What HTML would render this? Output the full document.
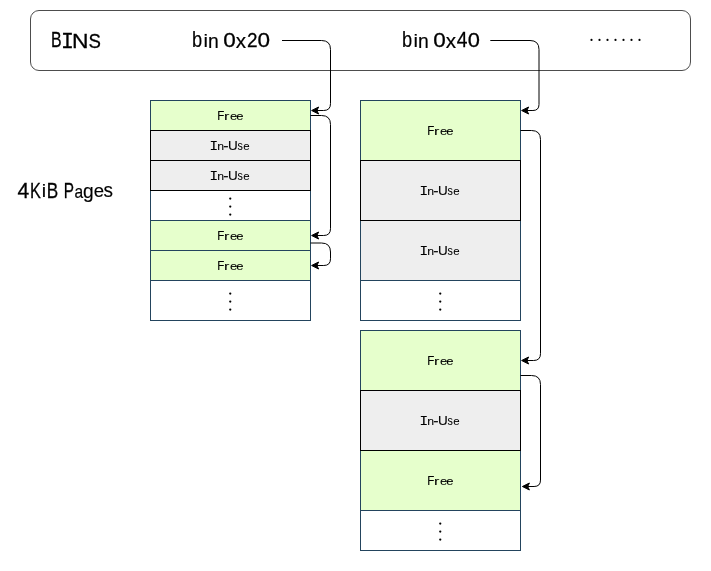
<!DOCTYPE html>
<html><head><meta charset="utf-8"><style>
html,body{margin:0;padding:0;background:#fff;width:711px;height:571px;overflow:hidden}
svg{display:block;will-change:transform}
text{font-family:"Liberation Sans", sans-serif;fill:#000}
</style></head><body>
<svg width="711" height="571" viewBox="0 0 711 571">
<path d="M39.0 10.5 L682.0 10.5 A8.5 8.5 0 0 1 690.5 19.0 L690.5 62.0 A8.5 8.5 0 0 1 682.0 70.5 L39.0 70.5 A8.5 8.5 0 0 1 30.5 62.0 L30.5 19.0 A8.5 8.5 0 0 1 39.0 10.5 Z" fill="#fff" stroke="#4d4d4d"/>
<rect x="150.5" y="100.5" width="160" height="30" fill="#e6ffcc" stroke="#23445d"/>
<rect x="150.5" y="220.5" width="160" height="30" fill="#e6ffcc" stroke="#23445d"/>
<rect x="150.5" y="250.5" width="160" height="30" fill="#e6ffcc" stroke="#23445d"/>
<rect x="150.5" y="190.5" width="160" height="30" fill="#ffffff" stroke="#23445d"/>
<rect x="150.5" y="280.5" width="160" height="40" fill="#ffffff" stroke="#23445d"/>
<rect x="150.5" y="130.5" width="160" height="30" fill="#eeeeee" stroke="#000"/>
<rect x="150.5" y="160.5" width="160" height="30" fill="#eeeeee" stroke="#000"/>
<text transform="translate(217.22 119.75) scale(0.9694 1.0507)" font-size="12" style='font-family:"Liberation Sans", sans-serif' stroke="#000" stroke-width="0.1">F</text><text transform="translate(223.88 119.77) scale(1.3467 0.9630)" font-size="12" style='font-family:"Liberation Sans", sans-serif' stroke="#000" stroke-width="0.06">r</text><text transform="translate(230.05 119.66) scale(1.0824 0.9455)" font-size="12" style='font-family:"Liberation Sans", sans-serif' stroke="#000" stroke-width="0.06">e</text><text transform="translate(236.35 119.66) scale(1.0824 0.9455)" font-size="12" style='font-family:"Liberation Sans", sans-serif' stroke="#000" stroke-width="0.06">e</text>
<text transform="translate(209.50 149.85) scale(1.2083 1.1237)" font-size="12" style='font-family:"Liberation Mono", monospace' stroke="#000" stroke-width="0.1">I</text><text transform="translate(217.13 149.87) scale(1.0275 0.9475)" font-size="12" style='font-family:"Liberation Sans", sans-serif' stroke="#000" stroke-width="0.06">n</text><text transform="translate(223.13 149.76) scale(1.3265 1.0417)" font-size="12" style='font-family:"Liberation Sans", sans-serif' stroke="#000" stroke-width="0.1">-</text><text transform="translate(228.04 149.62) scale(1.1257 1.0476)" font-size="12" style='font-family:"Liberation Sans", sans-serif' stroke="#000" stroke-width="0.1">U</text><text transform="translate(237.51 149.65) scale(0.8889 1.0153)" font-size="12" style='font-family:"Liberation Sans", sans-serif' stroke="#000" stroke-width="0.06">s</text><text transform="translate(243.21 149.66) scale(0.9570 0.9303)" font-size="12" style='font-family:"Liberation Sans", sans-serif' stroke="#000" stroke-width="0.06">e</text>
<text transform="translate(209.50 179.85) scale(1.2083 1.1237)" font-size="12" style='font-family:"Liberation Mono", monospace' stroke="#000" stroke-width="0.1">I</text><text transform="translate(217.13 179.87) scale(1.0275 0.9475)" font-size="12" style='font-family:"Liberation Sans", sans-serif' stroke="#000" stroke-width="0.06">n</text><text transform="translate(223.13 179.76) scale(1.3265 1.0417)" font-size="12" style='font-family:"Liberation Sans", sans-serif' stroke="#000" stroke-width="0.1">-</text><text transform="translate(228.04 179.62) scale(1.1257 1.0476)" font-size="12" style='font-family:"Liberation Sans", sans-serif' stroke="#000" stroke-width="0.1">U</text><text transform="translate(237.51 179.65) scale(0.8889 1.0153)" font-size="12" style='font-family:"Liberation Sans", sans-serif' stroke="#000" stroke-width="0.06">s</text><text transform="translate(243.21 179.66) scale(0.9570 0.9303)" font-size="12" style='font-family:"Liberation Sans", sans-serif' stroke="#000" stroke-width="0.06">e</text>
<circle cx="230.25" cy="198.55" r="1.15" fill="#000"/><circle cx="230.25" cy="206.55" r="1.15" fill="#000"/><circle cx="230.25" cy="214.55" r="1.15" fill="#000"/>
<text transform="translate(217.22 239.75) scale(0.9694 1.0507)" font-size="12" style='font-family:"Liberation Sans", sans-serif' stroke="#000" stroke-width="0.1">F</text><text transform="translate(223.88 239.77) scale(1.3467 0.9630)" font-size="12" style='font-family:"Liberation Sans", sans-serif' stroke="#000" stroke-width="0.06">r</text><text transform="translate(230.05 239.66) scale(1.0824 0.9455)" font-size="12" style='font-family:"Liberation Sans", sans-serif' stroke="#000" stroke-width="0.06">e</text><text transform="translate(236.35 239.66) scale(1.0824 0.9455)" font-size="12" style='font-family:"Liberation Sans", sans-serif' stroke="#000" stroke-width="0.06">e</text>
<text transform="translate(217.22 269.75) scale(0.9694 1.0507)" font-size="12" style='font-family:"Liberation Sans", sans-serif' stroke="#000" stroke-width="0.1">F</text><text transform="translate(223.88 269.77) scale(1.3467 0.9630)" font-size="12" style='font-family:"Liberation Sans", sans-serif' stroke="#000" stroke-width="0.06">r</text><text transform="translate(230.05 269.66) scale(1.0824 0.9455)" font-size="12" style='font-family:"Liberation Sans", sans-serif' stroke="#000" stroke-width="0.06">e</text><text transform="translate(236.35 269.66) scale(1.0824 0.9455)" font-size="12" style='font-family:"Liberation Sans", sans-serif' stroke="#000" stroke-width="0.06">e</text>
<circle cx="230.25" cy="293.55" r="1.15" fill="#000"/><circle cx="230.25" cy="301.55" r="1.15" fill="#000"/><circle cx="230.25" cy="309.55" r="1.15" fill="#000"/>
<rect x="360.5" y="100.5" width="160" height="60" fill="#e6ffcc" stroke="#23445d"/>
<rect x="360.5" y="220.5" width="160" height="60" fill="#eeeeee" stroke="#23445d"/>
<rect x="360.5" y="280.5" width="160" height="40" fill="#ffffff" stroke="#23445d"/>
<rect x="360.5" y="160.5" width="160" height="60" fill="#eeeeee" stroke="#000"/>
<text transform="translate(427.22 134.75) scale(0.9694 1.0507)" font-size="12" style='font-family:"Liberation Sans", sans-serif' stroke="#000" stroke-width="0.1">F</text><text transform="translate(433.88 134.77) scale(1.3467 0.9630)" font-size="12" style='font-family:"Liberation Sans", sans-serif' stroke="#000" stroke-width="0.06">r</text><text transform="translate(440.05 134.66) scale(1.0824 0.9455)" font-size="12" style='font-family:"Liberation Sans", sans-serif' stroke="#000" stroke-width="0.06">e</text><text transform="translate(446.35 134.66) scale(1.0824 0.9455)" font-size="12" style='font-family:"Liberation Sans", sans-serif' stroke="#000" stroke-width="0.06">e</text>
<text transform="translate(419.50 194.85) scale(1.2083 1.1237)" font-size="12" style='font-family:"Liberation Mono", monospace' stroke="#000" stroke-width="0.1">I</text><text transform="translate(427.13 194.87) scale(1.0275 0.9475)" font-size="12" style='font-family:"Liberation Sans", sans-serif' stroke="#000" stroke-width="0.06">n</text><text transform="translate(433.13 194.76) scale(1.3265 1.0417)" font-size="12" style='font-family:"Liberation Sans", sans-serif' stroke="#000" stroke-width="0.1">-</text><text transform="translate(438.04 194.62) scale(1.1257 1.0476)" font-size="12" style='font-family:"Liberation Sans", sans-serif' stroke="#000" stroke-width="0.1">U</text><text transform="translate(447.51 194.65) scale(0.8889 1.0153)" font-size="12" style='font-family:"Liberation Sans", sans-serif' stroke="#000" stroke-width="0.06">s</text><text transform="translate(453.21 194.66) scale(0.9570 0.9303)" font-size="12" style='font-family:"Liberation Sans", sans-serif' stroke="#000" stroke-width="0.06">e</text>
<text transform="translate(419.50 254.85) scale(1.2083 1.1237)" font-size="12" style='font-family:"Liberation Mono", monospace' stroke="#000" stroke-width="0.1">I</text><text transform="translate(427.13 254.87) scale(1.0275 0.9475)" font-size="12" style='font-family:"Liberation Sans", sans-serif' stroke="#000" stroke-width="0.06">n</text><text transform="translate(433.13 254.76) scale(1.3265 1.0417)" font-size="12" style='font-family:"Liberation Sans", sans-serif' stroke="#000" stroke-width="0.1">-</text><text transform="translate(438.04 254.62) scale(1.1257 1.0476)" font-size="12" style='font-family:"Liberation Sans", sans-serif' stroke="#000" stroke-width="0.1">U</text><text transform="translate(447.51 254.65) scale(0.8889 1.0153)" font-size="12" style='font-family:"Liberation Sans", sans-serif' stroke="#000" stroke-width="0.06">s</text><text transform="translate(453.21 254.66) scale(0.9570 0.9303)" font-size="12" style='font-family:"Liberation Sans", sans-serif' stroke="#000" stroke-width="0.06">e</text>
<circle cx="440.25" cy="293.55" r="1.15" fill="#000"/><circle cx="440.25" cy="301.55" r="1.15" fill="#000"/><circle cx="440.25" cy="309.55" r="1.15" fill="#000"/>
<rect x="360.5" y="330.5" width="160" height="60" fill="#e6ffcc" stroke="#23445d"/>
<rect x="360.5" y="450.5" width="160" height="60" fill="#e6ffcc" stroke="#23445d"/>
<rect x="360.5" y="510.5" width="160" height="40" fill="#ffffff" stroke="#23445d"/>
<rect x="360.5" y="390.5" width="160" height="60" fill="#eeeeee" stroke="#000"/>
<text transform="translate(427.22 364.75) scale(0.9694 1.0507)" font-size="12" style='font-family:"Liberation Sans", sans-serif' stroke="#000" stroke-width="0.1">F</text><text transform="translate(433.88 364.77) scale(1.3467 0.9630)" font-size="12" style='font-family:"Liberation Sans", sans-serif' stroke="#000" stroke-width="0.06">r</text><text transform="translate(440.05 364.66) scale(1.0824 0.9455)" font-size="12" style='font-family:"Liberation Sans", sans-serif' stroke="#000" stroke-width="0.06">e</text><text transform="translate(446.35 364.66) scale(1.0824 0.9455)" font-size="12" style='font-family:"Liberation Sans", sans-serif' stroke="#000" stroke-width="0.06">e</text>
<text transform="translate(419.50 424.85) scale(1.2083 1.1237)" font-size="12" style='font-family:"Liberation Mono", monospace' stroke="#000" stroke-width="0.1">I</text><text transform="translate(427.13 424.87) scale(1.0275 0.9475)" font-size="12" style='font-family:"Liberation Sans", sans-serif' stroke="#000" stroke-width="0.06">n</text><text transform="translate(433.13 424.76) scale(1.3265 1.0417)" font-size="12" style='font-family:"Liberation Sans", sans-serif' stroke="#000" stroke-width="0.1">-</text><text transform="translate(438.04 424.62) scale(1.1257 1.0476)" font-size="12" style='font-family:"Liberation Sans", sans-serif' stroke="#000" stroke-width="0.1">U</text><text transform="translate(447.51 424.65) scale(0.8889 1.0153)" font-size="12" style='font-family:"Liberation Sans", sans-serif' stroke="#000" stroke-width="0.06">s</text><text transform="translate(453.21 424.66) scale(0.9570 0.9303)" font-size="12" style='font-family:"Liberation Sans", sans-serif' stroke="#000" stroke-width="0.06">e</text>
<text transform="translate(427.22 484.75) scale(0.9694 1.0507)" font-size="12" style='font-family:"Liberation Sans", sans-serif' stroke="#000" stroke-width="0.1">F</text><text transform="translate(433.88 484.77) scale(1.3467 0.9630)" font-size="12" style='font-family:"Liberation Sans", sans-serif' stroke="#000" stroke-width="0.06">r</text><text transform="translate(440.05 484.66) scale(1.0824 0.9455)" font-size="12" style='font-family:"Liberation Sans", sans-serif' stroke="#000" stroke-width="0.06">e</text><text transform="translate(446.35 484.66) scale(1.0824 0.9455)" font-size="12" style='font-family:"Liberation Sans", sans-serif' stroke="#000" stroke-width="0.06">e</text>
<circle cx="440.25" cy="523.55" r="1.15" fill="#000"/><circle cx="440.25" cy="531.55" r="1.15" fill="#000"/><circle cx="440.25" cy="539.55" r="1.15" fill="#000"/>
<path d="M282.000 40.500 L321.500 40.500 Q330.500 40.500 330.500 49.500 L330.500 103.684 Q330.500 110.500 323.684 110.500 L316.868 110.500" fill="none" stroke="#000" stroke-width="1"/><path d="M311.618 110.5 L318.618 107.0 L316.868 110.5 L318.618 114.0 Z" fill="#000" stroke="#000" stroke-width="1"/>
<path d="M310.500 115.500 L321.500 115.500 Q330.500 115.500 330.500 124.500 L330.500 228.684 Q330.500 235.500 323.684 235.500 L316.868 235.500" fill="none" stroke="#000" stroke-width="1"/><path d="M311.618 235.5 L318.618 232.0 L316.868 235.5 L318.618 239.0 Z" fill="#000" stroke="#000" stroke-width="1"/>
<path d="M310.500 243.000 L321.500 243.000 Q330.500 243.000 330.500 252.000 L330.500 258.750 Q330.500 265.500 323.750 265.500 L316.868 265.500" fill="none" stroke="#000" stroke-width="1"/><path d="M311.618 265.5 L318.618 262.0 L316.868 265.5 L318.618 269.0 Z" fill="#000" stroke="#000" stroke-width="1"/>
<path d="M490.300 40.500 L530.000 40.500 Q539.000 40.500 539.000 49.500 L539.000 104.434 Q539.000 110.500 532.934 110.500 L526.868 110.500" fill="none" stroke="#000" stroke-width="1"/><path d="M521.618 110.5 L528.618 107.0 L526.868 110.5 L528.618 114.0 Z" fill="#000" stroke="#000" stroke-width="1"/>
<path d="M520.500 130.500 L531.500 130.500 Q540.500 130.500 540.500 139.500 L540.500 353.684 Q540.500 360.500 533.684 360.500 L526.868 360.500" fill="none" stroke="#000" stroke-width="1"/><path d="M521.618 360.5 L528.618 357.0 L526.868 360.5 L528.618 364.0 Z" fill="#000" stroke="#000" stroke-width="1"/>
<path d="M520.500 375.500 L531.500 375.500 Q540.500 375.500 540.500 384.500 L540.500 480.084 Q540.500 486.500 534.084 486.500 L527.668 486.500" fill="none" stroke="#000" stroke-width="1"/><path d="M522.418 486.5 L529.418 483.0 L527.668 486.5 L529.418 490.0 Z" fill="#000" stroke="#000" stroke-width="1"/>
<text transform="translate(51.08 47.40) scale(0.7222 1.0046)" font-size="22" style='font-family:"Liberation Sans", sans-serif' stroke="#000" stroke-width="0.3">B</text><text transform="translate(61.00 47.55) scale(0.9773 0.9986)" font-size="22" style='font-family:"Liberation Mono", monospace' stroke="#000" stroke-width="0.3">I</text><text transform="translate(72.02 47.55) scale(1.0390 0.9486)" font-size="22" style='font-family:"Liberation Sans", sans-serif' stroke="#000" stroke-width="0.3">N</text><text transform="translate(88.41 47.55) scale(0.8458 0.8963)" font-size="22" style='font-family:"Liberation Sans", sans-serif' stroke="#000" stroke-width="0.3">S</text>
<text transform="translate(191.90 47.40) scale(0.8303 0.9660)" font-size="22" style='font-family:"Liberation Sans", sans-serif' stroke="#000" stroke-width="0.18">b</text><text transform="translate(203.48 46.61) scale(0.9192 0.8351)" font-size="22" style='font-family:"Liberation Sans", sans-serif' stroke="#000" stroke-width="0.18">i</text><text transform="translate(208.03 47.61) scale(0.8791 0.8855)" font-size="22" style='font-family:"Liberation Sans", sans-serif' stroke="#000" stroke-width="0.18">n</text><text transform="translate(223.15 47.45) scale(1.0239 0.9283)" font-size="22" style='font-family:"Liberation Sans", sans-serif' stroke="#000" stroke-width="0.3">0</text><text transform="translate(235.78 47.51) scale(0.9400 0.8937)" font-size="22" style='font-family:"Liberation Sans", sans-serif' stroke="#000" stroke-width="0.18">x</text><text transform="translate(247.10 46.75) scale(0.8591 0.8831)" font-size="22" style='font-family:"Liberation Sans", sans-serif' stroke="#000" stroke-width="0.3">2</text><text transform="translate(257.45 47.15) scale(1.0239 0.9091)" font-size="22" style='font-family:"Liberation Sans", sans-serif' stroke="#000" stroke-width="0.3">0</text>
<text transform="translate(401.90 47.40) scale(0.8303 0.9660)" font-size="22" style='font-family:"Liberation Sans", sans-serif' stroke="#000" stroke-width="0.18">b</text><text transform="translate(413.48 46.61) scale(0.9192 0.8351)" font-size="22" style='font-family:"Liberation Sans", sans-serif' stroke="#000" stroke-width="0.18">i</text><text transform="translate(418.03 47.61) scale(0.8791 0.8855)" font-size="22" style='font-family:"Liberation Sans", sans-serif' stroke="#000" stroke-width="0.18">n</text><text transform="translate(433.15 47.45) scale(1.0239 0.9283)" font-size="22" style='font-family:"Liberation Sans", sans-serif' stroke="#000" stroke-width="0.3">0</text><text transform="translate(445.78 47.51) scale(0.9400 0.8937)" font-size="22" style='font-family:"Liberation Sans", sans-serif' stroke="#000" stroke-width="0.18">x</text><text transform="translate(456.77 47.35) scale(0.8727 1.0013)" font-size="22" style='font-family:"Liberation Sans", sans-serif' stroke="#000" stroke-width="0.3">4</text><text transform="translate(467.77 47.15) scale(0.9952 0.9091)" font-size="22" style='font-family:"Liberation Sans", sans-serif' stroke="#000" stroke-width="0.3">0</text>
<text transform="translate(17.62 197.75) scale(0.9545 1.0343)" font-size="22" style='font-family:"Liberation Sans", sans-serif' stroke="#000" stroke-width="0.3">4</text><text transform="translate(29.95 197.75) scale(0.7391 0.9750)" font-size="22" style='font-family:"Liberation Sans", sans-serif' stroke="#000" stroke-width="0.3">K</text><text transform="translate(41.86 196.51) scale(0.8939 0.8414)" font-size="22" style='font-family:"Liberation Sans", sans-serif' stroke="#000" stroke-width="0.18">i</text><text transform="translate(46.77 197.65) scale(0.7816 1.0343)" font-size="22" style='font-family:"Liberation Sans", sans-serif' stroke="#000" stroke-width="0.3">B</text><text transform="translate(63.72 197.65) scale(0.6967 1.0343)" font-size="22" style='font-family:"Liberation Sans", sans-serif' stroke="#000" stroke-width="0.3">P</text><text transform="translate(74.39 197.52) scale(0.7059 0.8446)" font-size="22" style='font-family:"Liberation Sans", sans-serif' stroke="#000" stroke-width="0.18">a</text><text transform="translate(83.12 197.59) scale(0.8707 0.8920)" font-size="22" style='font-family:"Liberation Sans", sans-serif' stroke="#000" stroke-width="0.18">g</text><text transform="translate(93.66 197.22) scale(0.8426 0.8529)" font-size="22" style='font-family:"Liberation Sans", sans-serif' stroke="#000" stroke-width="0.18">e</text><text transform="translate(103.52 197.21) scale(0.8589 0.9191)" font-size="22" style='font-family:"Liberation Sans", sans-serif' stroke="#000" stroke-width="0.18">s</text>
<circle cx="591.5" cy="39.9" r="1.1" fill="#000"/>
<circle cx="599.5" cy="39.9" r="1.1" fill="#000"/>
<circle cx="607.5" cy="39.9" r="1.1" fill="#000"/>
<circle cx="615.5" cy="39.9" r="1.1" fill="#000"/>
<circle cx="623.5" cy="39.9" r="1.1" fill="#000"/>
<circle cx="631.5" cy="39.9" r="1.1" fill="#000"/>
<circle cx="639.5" cy="39.9" r="1.1" fill="#000"/>
</svg>
</body></html>
